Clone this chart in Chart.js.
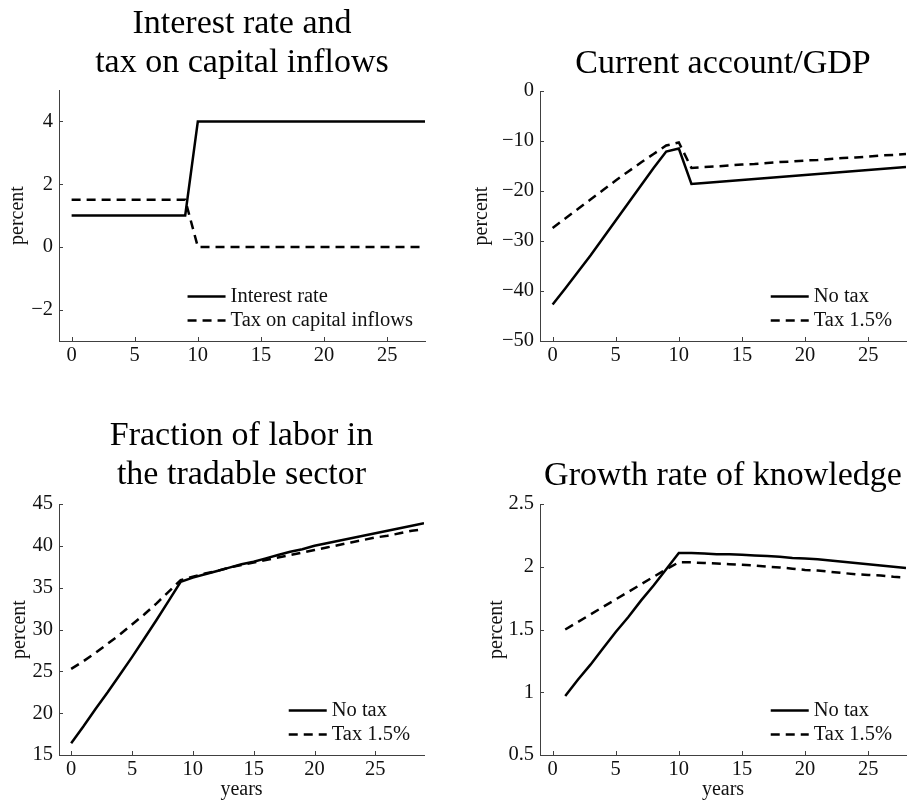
<!DOCTYPE html>
<html>
<head>
<meta charset="utf-8">
<script src="https://cdn.jsdelivr.net/npm/chart.js@4"></script>
<style>
  html, body { margin: 0; padding: 0; background: #fff; }
  #page { position: relative; width: 910px; height: 808px; }
  .panel { position: absolute; }
</style>
</head>
<body>
<div id="page">
  <div class="panel" style="left:6px;top:0px;width:424px;height:376px"><canvas id="c1"></canvas></div>
  <div class="panel" style="left:470px;top:0px;width:440px;height:376px"><canvas id="c2"></canvas></div>
  <div class="panel" style="left:8px;top:400px;width:422px;height:402px"><canvas id="c3"></canvas></div>
  <div class="panel" style="left:485px;top:400px;width:425px;height:402px"><canvas id="c4"></canvas></div>
</div>
<script>
// years on the horizontal axis
const years0to28 = [0,1,2,3,4,5,6,7,8,9,10,11,12,13,14,15,16,17,18,19,20,21,22,23,24,25,26,27,28];
const years0to29 = [0,1,2,3,4,5,6,7,8,9,10,11,12,13,14,15,16,17,18,19,20,21,22,23,24,25,26,27,28,29];
const years1to28 = [1,2,3,4,5,6,7,8,9,10,11,12,13,14,15,16,17,18,19,20,21,22,23,24,25,26,27,28];

// panel 1: interest rate and tax
const interestRate = [1,1,1,1,1,1,1,1,1,1,4,4,4,4,4,4,4,4,4,4,4,4,4,4,4,4,4,4,4];
const capitalTax   = [1.5,1.5,1.5,1.5,1.5,1.5,1.5,1.5,1.5,1.5,0,0,0,0,0,0,0,0,0,0,0,0,0,0,0,0,0,0,0];

// panel 2: current account / GDP
const caNoTax = [-42.7,-39.5,-36.2,-32.9,-29.4,-25.9,-22.4,-18.9,-15.4,-12.1,-11.5,-18.6,-18.4,-18.2,-18.0,-17.8,-17.6,-17.4,-17.2,-17.0,-16.8,-16.6,-16.4,-16.2,-16.0,-15.8,-15.6,-15.4,-15.2];
const caTax   = [-27.4,-25.5,-23.6,-21.7,-19.8,-17.9,-16.1,-14.3,-12.6,-10.9,-10.3,-15.4,-15.2,-15.1,-14.9,-14.7,-14.6,-14.4,-14.2,-14.1,-13.9,-13.8,-13.6,-13.4,-13.3,-13.1,-12.9,-12.8,-12.6];

// panel 3: fraction of labor in tradable sector
const laborNoTax = [16.4,18.4,20.5,22.5,24.6,26.7,28.9,31.1,33.4,35.7,36.2,36.6,37.0,37.4,37.8,38.1,38.5,38.9,39.3,39.6,40.0,40.3,40.6,40.9,41.2,41.5,41.8,42.1,42.4,42.7];
const laborTax   = [25.3,26.2,27.2,28.3,29.4,30.6,31.8,33.1,34.5,35.9,36.3,36.7,37.0,37.4,37.7,38.0,38.3,38.6,38.9,39.2,39.5,39.8,40.1,40.4,40.7,41.0,41.2,41.5,41.8,42.0];

// panel 4: growth rate of knowledge
const growthNoTax = [0.97,1.10,1.22,1.35,1.48,1.60,1.73,1.85,1.98,2.11,2.11,2.105,2.10,2.10,2.095,2.09,2.085,2.08,2.07,2.065,2.06,2.05,2.04,2.03,2.02,2.01,2.00,1.99];
const growthTax   = [1.50,1.56,1.62,1.68,1.74,1.80,1.86,1.92,1.98,2.035,2.035,2.03,2.025,2.02,2.015,2.01,2.00,1.995,1.985,1.975,1.97,1.96,1.95,1.94,1.935,1.93,1.92,1.915];

// tick labels
const xTicks = [0,5,10,15,20,25];
const yTicks1 = [-2,0,2,4];
const yTicks2 = [-50,-40,-30,-20,-10,0];
const yTicks3 = [15,20,25,30,35,40,45];
const yTicks4 = [0.5,1,1.5,2,2.5];

const SERIF = "'Liberation Serif', 'Times New Roman', serif";
const AXIS = '#404040';
const TEXT = '#111';

function pts(xs, ys) { return xs.map((x, i) => ({x: x, y: ys[i]})); }
function minus(v) { return String(v).replace('-', '\u2212'); }

const axisTicks = {
  id: 'axisTicks',
  afterDraw(chart) {
    const {ctx, chartArea: a, scales: {x, y}} = chart;
    ctx.save();
    ctx.strokeStyle = AXIS;
    ctx.lineWidth = 1;
    ctx.beginPath();
    x.ticks.forEach(t => {
      const px = Math.round(x.getPixelForValue(t.value)) + 0.5;
      ctx.moveTo(px, a.bottom); ctx.lineTo(px, a.bottom - 4);
    });
    y.ticks.forEach(t => {
      const py = Math.round(y.getPixelForValue(t.value)) + 0.5;
      ctx.moveTo(a.left, py); ctx.lineTo(a.left + 4, py);
    });
    ctx.stroke();
    ctx.restore();
  }
};

const cornerLegend = {
  id: 'cornerLegend',
  afterDraw(chart, args, opts) {
    const {ctx, chartArea: a} = chart;
    const sets = chart.data.datasets;
    ctx.save();
    ctx.font = '20.5px ' + SERIF;
    const w = Math.max(...sets.map(d => ctx.measureText(d.label).width));
    const textX = a.right - opts.margin - w;
    sets.forEach((d, i) => {
      const yy = a.bottom - opts.rows[i];
      ctx.setLineDash(d.borderDash || []);
      ctx.lineWidth = d.borderWidth;
      ctx.strokeStyle = d.borderColor;
      ctx.beginPath();
      ctx.moveTo(textX - 43, yy);
      ctx.lineTo(textX - 5, yy);
      ctx.stroke();
      ctx.setLineDash([]);
      ctx.fillStyle = TEXT;
      ctx.textBaseline = 'middle';
      ctx.textAlign = 'left';
      ctx.fillText(d.label, textX, yy);
    });
    ctx.restore();
  }
};

function drawPanel(id, p) {
  new Chart(document.getElementById(id), {
    type: 'line',
    data: {
      datasets: [
        { label: p.labels[0], data: pts(p.xs, p.solid), borderColor: '#000', borderWidth: 2.5, pointRadius: 0, tension: 0 },
        { label: p.labels[1], data: pts(p.xs, p.dashed), borderColor: '#000', borderWidth: 2.5, borderDash: [9, 6], pointRadius: 0, tension: 0 }
      ]
    },
    options: {
      responsive: true,
      maintainAspectRatio: false,
      animation: false,
      layout: { padding: { left: 0, top: 0, right: p.padRight, bottom: 0 } },
      plugins: {
        legend: { display: false },
        tooltip: { enabled: false },
        title: {
          display: true,
          text: p.title,
          fullSize: false,
          color: '#000',
          font: { family: SERIF, size: 34, weight: 'normal', lineHeight: p.titleLine },
          padding: { top: p.titleTop, bottom: p.titleBottom }
        },
        cornerLegend: { margin: p.legendMargin, rows: [44.5, 20.5] }
      },
      scales: {
        x: {
          type: 'linear',
          min: p.xMin, max: p.xMax,
          afterBuildTicks: s => { s.ticks = xTicks.map(v => ({value: v})); },
          afterFit: s => { s.height = p.xHeight; },
          border: { display: true, color: AXIS, width: 1 },
          grid: { display: false, drawTicks: false },
          ticks: { color: TEXT, padding: 2, maxRotation: 0, font: { family: SERIF, size: 20.5 } },
          title: { display: p.yearsLabel, text: 'years', color: TEXT, padding: 0, font: { family: SERIF, size: 20 } }
        },
        y: {
          min: p.yMin, max: p.yMax,
          afterBuildTicks: s => { s.ticks = p.yTicks.map(v => ({value: v})); },
          afterFit: s => { s.width = p.yWidth; },
          border: { display: true, color: AXIS, width: 1 },
          grid: { display: false, drawTicks: false },
          ticks: { color: TEXT, padding: 6, font: { family: SERIF, size: 20.5 }, callback: v => minus(v) },
          title: { display: true, text: 'percent', color: TEXT, padding: 0, font: { family: SERIF, size: 20 } }
        }
      }
    },
    plugins: [axisTicks, cornerLegend]
  });
}

drawPanel('c1', {
  title: ['Interest rate and', 'tax on capital inflows'], titleLine: 38.5 / 34, titleTop: 5, titleBottom: 8,
  xs: years0to28, solid: interestRate, dashed: capitalTax,
  labels: ['Interest rate', 'Tax on capital inflows'],
  xMin: -1, xMax: 28, yMin: -3, yMax: 5, yTicks: yTicks1,
  yWidth: 53, xHeight: 35, padRight: 5, legendMargin: 12, yearsLabel: false
});
drawPanel('c2', {
  title: 'Current account/GDP', titleLine: 39 / 34, titleTop: 45, titleBottom: 7,
  xs: years0to28, solid: caNoTax, dashed: caTax,
  labels: ['No tax', 'Tax 1.5%'],
  xMin: -1, xMax: 28, yMin: -50, yMax: 0, yTicks: yTicks2,
  yWidth: 70, xHeight: 35, padRight: 4, legendMargin: 14, yearsLabel: false
});
drawPanel('c3', {
  title: ['Fraction of labor in', 'the tradable sector'], titleLine: 38.5 / 34, titleTop: 17, titleBottom: 10,
  xs: years0to29, solid: laborNoTax, dashed: laborTax,
  labels: ['No tax', 'Tax 1.5%'],
  xMin: -1, xMax: 29, yMin: 15, yMax: 45, yTicks: yTicks3,
  yWidth: 51, xHeight: 47, padRight: 6, legendMargin: 14, yearsLabel: true
});
drawPanel('c4', {
  title: 'Growth rate of knowledge', titleLine: 39 / 34, titleTop: 57, titleBottom: 8,
  xs: years1to28, solid: growthNoTax, dashed: growthTax,
  labels: ['No tax', 'Tax 1.5%'],
  xMin: -1, xMax: 28, yMin: 0.5, yMax: 2.5, yTicks: yTicks4,
  yWidth: 55, xHeight: 47, padRight: 4, legendMargin: 14, yearsLabel: true
});
</script>
</body>
</html>
